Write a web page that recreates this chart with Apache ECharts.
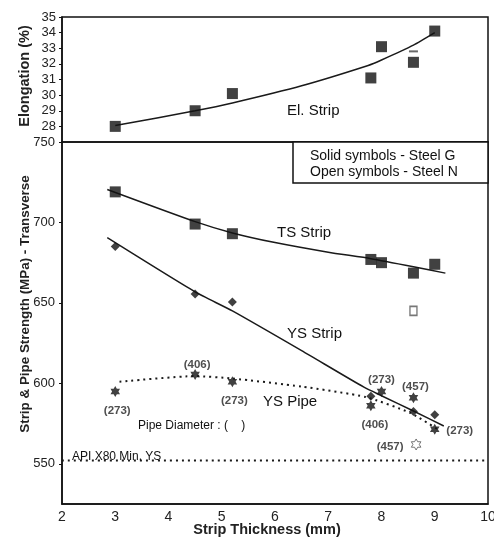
<!DOCTYPE html>
<html>
<head>
<meta charset="utf-8">
<script src="https://cdn.jsdelivr.net/npm/echarts@6/dist/echarts.min.js"></script>
<style>html,body{margin:0;padding:0;background:#fff;}#c{width:494px;height:538px;}</style>
</head>
<body>
<div id="c"></div>
<script>
// ---- data ----
const thickness   = [3.0, 4.5, 5.2, 7.8, 8.0, 8.6, 9.0];
const elongation  = [28.0, 29.0, 30.1, 31.1, 33.1, 32.1, 34.1];
const tsStrip     = [719, 699, 693, 677, 675, 668.5, 674];
const ysStripX    = [3.0, 4.5, 5.2, 7.8, 8.6, 9.0];
const ysStrip     = [685, 655.5, 650.5, 592, 582.5, 580.5];
const pipeX       = [3.0, 4.5, 5.2, 7.8, 8.0, 8.6, 9.0];
const ysPipe      = [595, 605.5, 601, 586, 595, 591, 571.5];
const pipeDia     = ['(273)', '(406)', '(273)', '(406)', '(273)', '(457)', '(273)'];
// open symbols (Steel N)
const openElX = [8.6],  openEl = [32.8];
const openTsX = [8.6],  openTs = [645];
const openPipeX = [8.65], openPipe = [562], openPipeDia = ['(457)'];
// fitted curves
const elFitX = [3.0, 4.5, 5.2, 6.5, 7.75, 8.0, 8.6, 9.0];
const elFit  = [28.05, 29.0, 29.5, 30.6, 31.9, 32.25, 33.2, 34.0];
const tsFitX = [2.85, 4.5, 5.2, 6.0, 7.0, 7.8, 8.6, 9.2];
const tsFit  = [720.5, 700.5, 693.5, 687.5, 681.5, 677.5, 672.5, 668.5];
const ysFitX = [2.85, 4.5, 5.2, 6.5, 7.67, 8.0, 8.6, 9.17];
const ysFit  = [690.5, 656.8, 645, 620.3, 597.6, 592.3, 582.8, 573.5];
const pipeFitX = [3.08, 4.5, 5.2, 6.5, 7.7, 8.55, 9.05];
const pipeFit  = [601, 604.5, 603, 598, 591.5, 581.5, 571.5];
const apiX = [2, 10], apiYS = [552, 552];
const xTicks = [2, 3, 4, 5, 6, 7, 8, 9, 10];
const strengthTicks = [550, 600, 650, 700, 750];

// label offsets (style only)
const pipeLabelOffset = [[2,19],[2,-10],[2,19],[4,19],[0,-12],[2,-11],[25,2]];
const openPipeLabelOffset = [[-26,2]];

const zip = (xs, ys) => xs.map((x, i) => [x, ys[i]]);
const FONT = "'Liberation Sans', Arial, sans-serif";
const INK = '#111';
const star = 'path://M0,-10L2.89,-5L8.66,-5L5.77,0L8.66,5L2.89,5L0,10L-2.89,5L-8.66,5L-5.77,0L-8.66,-5L-2.89,-5Z';

const chart = echarts.init(document.getElementById('c'), null, {renderer: 'canvas'});
const txt = (x, y, s, size, extra) => ({
  type: 'text', x: x, y: y,
  style: Object.assign({text: s, fontSize: size, fontFamily: FONT, fill: INK, textVerticalAlign: 'middle'}, extra || {})
});
const fitLine = (xs, ys, dotted, gi) => ({
  type: 'line', xAxisIndex: gi || 0, yAxisIndex: gi || 0, data: zip(xs, ys), smooth: 0.2,
  showSymbol: false, lineStyle: {color: '#1a1a1a', width: dotted ? 2 : 1.5, type: dotted ? [2, 4] : 'solid'}, z: 2
});

chart.setOption({
  backgroundColor: '#fff',
  animation: false,
  textStyle: {fontFamily: FONT},
  grid: [
    {left: 62, right: 6, top: 17, height: 125, show: true, borderColor: INK, borderWidth: 1.5,
     backgroundColor: 'transparent', containLabel: false, outerBoundsMode: 'none'},
    {left: 62, right: 6, top: 142, height: 362, show: true, borderColor: INK, borderWidth: 1.5,
     backgroundColor: 'transparent', containLabel: false, outerBoundsMode: 'none'}
  ],
  xAxis: [
    {gridIndex: 0, type: 'value', min: 2, max: 10, interval: 1,
     axisLine: {show: false}, axisTick: {show: false}, axisLabel: {show: false}, splitLine: {show: false}},
    {gridIndex: 1, type: 'value', min: 2, max: 10, interval: 1,
     axisLine: {show: true, lineStyle: {color: INK, width: 1.5}}, axisTick: {show: false},
     axisLabel: {color: '#222', fontSize: 14, margin: 6, fontFamily: FONT,
                 customValues: xTicks}, splitLine: {show: false}}
  ],
  yAxis: [
    {gridIndex: 0, type: 'value', min: 27, max: 35, interval: 1,
     axisLine: {show: true, lineStyle: {color: INK, width: 1.5}},
     axisTick: {show: true, length: 3, lineStyle: {color: INK}},
     axisLabel: {color: '#222', fontSize: 13, margin: 6, fontFamily: FONT,
                 formatter: v => (v === 27 ? '' : String(v))},
     splitLine: {show: false}},
    {gridIndex: 1, type: 'value', min: 525, max: 750,
     axisLine: {show: true, lineStyle: {color: INK, width: 1.5}},
     axisTick: {show: true, length: 3, lineStyle: {color: INK}, customValues: strengthTicks},
     axisLabel: {color: '#222', fontSize: 13, margin: 7, fontFamily: FONT, customValues: strengthTicks},
     splitLine: {show: false}}
  ],
  series: [
    fitLine(elFitX, elFit, false, 0),
    {type: 'scatter', xAxisIndex: 0, yAxisIndex: 0, data: zip(thickness, elongation), symbol: 'rect', symbolSize: 11,
     itemStyle: {color: INK}, z: 3},
    {type: 'scatter', xAxisIndex: 0, yAxisIndex: 0, data: zip(openElX, openEl), symbol: 'rect', symbolSize: [9, 2],
     itemStyle: {color: '#444'}, z: 3},

    fitLine(tsFitX, tsFit, false, 1),
    {type: 'scatter', xAxisIndex: 1, yAxisIndex: 1, data: zip(thickness, tsStrip), symbol: 'rect', symbolSize: 11,
     itemStyle: {color: INK}, z: 3},
    {type: 'scatter', xAxisIndex: 1, yAxisIndex: 1, data: zip(openTsX, openTs), symbol: 'rect', symbolSize: [7, 9],
     itemStyle: {color: 'rgba(0,0,0,0)', borderColor: '#555', borderWidth: 1.5}, z: 3},

    fitLine(ysFitX, ysFit, false, 1),
    {type: 'scatter', xAxisIndex: 1, yAxisIndex: 1, data: zip(ysStripX, ysStrip), symbol: 'diamond', symbolSize: [9, 9],
     itemStyle: {color: INK}, z: 3},

    fitLine(pipeFitX, pipeFit, true, 1),
    {type: 'scatter', xAxisIndex: 1, yAxisIndex: 1, symbol: star, symbolSize: 11, symbolKeepAspect: true,
     itemStyle: {color: INK}, z: 4,
     data: pipeX.map((x, i) => ({value: [x, ysPipe[i]],
       label: {show: true, formatter: pipeDia[i], position: 'inside', offset: pipeLabelOffset[i],
               color: '#222', fontSize: 11.5, fontWeight: 'bold', fontFamily: FONT}}))},
    {type: 'scatter', xAxisIndex: 1, yAxisIndex: 1, symbol: star, symbolSize: 11, symbolKeepAspect: true,
     itemStyle: {color: 'rgba(0,0,0,0)', borderColor: '#555', borderWidth: 1}, z: 4,
     data: openPipeX.map((x, i) => ({value: [x, openPipe[i]],
       label: {show: true, formatter: openPipeDia[i], position: 'inside', offset: openPipeLabelOffset[i],
               color: '#222', fontSize: 11.5, fontWeight: 'bold', fontFamily: FONT}}))},

    fitLine(apiX, apiYS, true, 1)
  ],
  graphic: [
    txt(287, 111, 'El. Strip', 15),
    txt(277, 233, 'TS Strip', 15),
    txt(287, 334, 'YS Strip', 15),
    txt(263, 402, 'YS Pipe', 15),
    txt(138, 426, 'Pipe Diameter : (    )', 12),
    txt(72, 457, 'API X80 Min. YS', 12),
    {type: 'rect', shape: {x: 293, y: 142, width: 195, height: 41},
     style: {fill: '#fff', stroke: INK, lineWidth: 1.5}, z: 10},
    Object.assign(txt(310, 156, 'Solid symbols - Steel G', 14), {z: 11}),
    Object.assign(txt(310, 172, 'Open symbols - Steel N', 14), {z: 11}),
    {type: 'text', x: 25, y: 76, rotation: Math.PI / 2,
     style: {text: 'Elongation (%)', fontSize: 14.5, fontWeight: 'bold', fontFamily: FONT, fill: '#222',
             textAlign: 'center', textVerticalAlign: 'middle'}},
    {type: 'text', x: 25, y: 304, rotation: Math.PI / 2,
     style: {text: 'Strip & Pipe Strength (MPa) - Transverse', fontSize: 13.4, fontWeight: 'bold', fontFamily: FONT, fill: '#222',
             textAlign: 'center', textVerticalAlign: 'middle'}},
    {type: 'text', x: 267, y: 530,
     style: {text: 'Strip Thickness (mm)', fontSize: 14.5, fontWeight: 'bold', fontFamily: FONT, fill: '#222',
             textAlign: 'center', textVerticalAlign: 'middle'}}
  ]
});
</script>
</body>
</html>
